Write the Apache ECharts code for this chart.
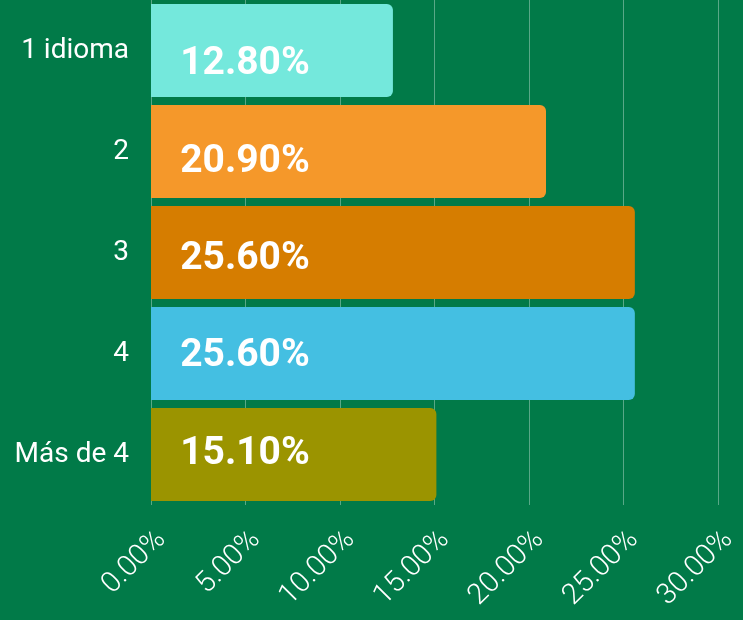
<!DOCTYPE html>
<html>
<head>
<meta charset="utf-8">
<script src="https://cdn.jsdelivr.net/npm/echarts@6/dist/echarts.min.js"></script>
<style>
  html, body { margin: 0; padding: 0; background: #017A48; }
  #chart { width: 743px; height: 620px; }
</style>
</head>
<body>
<div id="chart"></div>
<script>
// Data
const categories = ["1 idioma", "2", "3", "4", "Más de 4"];
const values = [12.8, 20.9, 25.6, 25.6, 15.1];
const barColors = ["#74E8DC", "#F5982A", "#D67D00", "#44BFE2", "#9B9400"];

const chart = echarts.init(document.getElementById("chart"));
const option = {
    backgroundColor: "#017A48",
    grid: {
        left: 151,
        right: 25,
        top: 0,
        bottom: 115
    },
    xAxis: {
        type: "value",
        min: 0,
        max: 30,
        interval: 5,
        axisLine: { show: false },
        axisTick: { show: false },
        splitLine: {
            show: true,
            lineStyle: { color: "rgba(255,255,255,0.35)", width: 1 }
        },
        axisLabel: {
            rotate: 45,
            margin: 20,
            verticalAlign: "top",
            color: "#fff",
            fontFamily: "Roboto",
            fontWeight: 300,
            fontSize: 29,
            formatter: function(v) { return v.toFixed(2) + "%"; }
        }
    },
    yAxis: {
        type: "category",
        data: categories,
        inverse: true,
        axisLine: { show: false },
        axisTick: { show: false },
        axisLabel: {
            color: "#fff",
            fontFamily: "Roboto",
            fontSize: 28,
            margin: 22
        }
    },
    series: [{
        type: "bar",
        barCategoryGap: "8%",
        data: values.map(function(v, i) {
            return {
                value: v,
                itemStyle: { color: barColors[i] },
                label: { offset: [0, 14 - 3.6 * i] }
            };
        }),
        itemStyle: { borderRadius: [0, 6, 6, 0] },
        label: {
            show: true,
            position: [94, "50%"],
            align: "center",
            verticalAlign: "middle",
            color: "#fff",
            fontFamily: "Roboto",
            fontWeight: "bold",
            fontSize: 39,
            formatter: function(p) { return p.value.toFixed(2) + "%"; }
        }
    }]
};
chart.setOption(option);
</script>
</body>
</html>
